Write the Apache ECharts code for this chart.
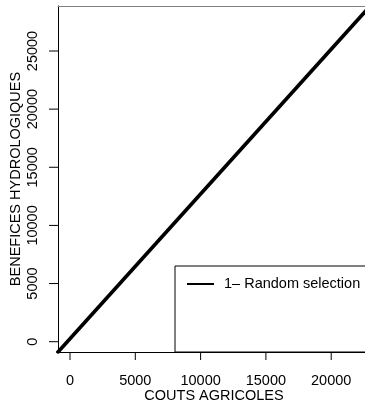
<!DOCTYPE html>
<html>
<head>
<meta charset="utf-8">
<script src="https://cdn.jsdelivr.net/npm/echarts@6/dist/echarts.min.js"></script>
<style>
  html, body { margin: 0; padding: 0; background: #fff; }
  #chart { width: 365px; height: 403px; }
</style>
</head>
<body>
<div id="chart"></div>
<script>
// Cumulative benefit vs. cost for the random-selection scenario
const seriesName = '1\u2013 Random selection';
const costs = [-1000, 23000];
const benefits = [-994, 28893];

// Plot extents and labelled ticks
const xRange = [-919, 22971];
const yRange = [-886, 28870];
const xTicks = [0, 5000, 10000, 15000, 20000];
const yTicks = [0, 5000, 10000, 15000, 20000, 25000];
const tickStep = 5000;

const FONT = 'Liberation Sans, Arial, sans-serif';
const FS = 14.5;
const plain = v => String(v);

const W = 365, H = 403;
const X_TICK_LEN = 8, Y_TICK_LEN = 9;
// Main plotting box (the right edge runs just past the canvas)
const box = { left: 58, top: 6, right: -5, bottom: 51 };
const boxW = W - box.left - box.right;
const boxH = H - box.top - box.bottom;
const xPx = v => box.left + (v - xRange[0]) / (xRange[1] - xRange[0]) * boxW;
const yPx = v => box.top + (yRange[1] - v) / (yRange[1] - yRange[0]) * boxH;

const xFirst = xTicks[0], xLast = xTicks[xTicks.length - 1];
const yFirst = yTicks[0], yLast = yTicks[yTicks.length - 1];

// Thin strips just outside the box carry the outward tick marks and their labels
const yTickGrid = {
  left: box.left - Y_TICK_LEN, right: W - box.left,
  top: yPx(yLast), bottom: H - yPx(yFirst),
  outerBoundsMode: 'none'
};
const xTickGrid = {
  left: xPx(xFirst), right: W - xPx(xLast),
  top: H - box.bottom, bottom: box.bottom - X_TICK_LEN,
  outerBoundsMode: 'none'
};

const labelStyle = { fontFamily: FONT, fontSize: FS, color: '#000', lineHeight: 17 };
const hidden = { show: false };

const tickSeries = (data, xi, yi) => ({
  type: 'line',
  xAxisIndex: xi,
  yAxisIndex: yi,
  data: data,
  symbol: 'none',
  showSymbol: false,
  silent: true,
  clip: false,
  lineStyle: { color: '#000', width: 1 },
  itemStyle: { color: '#000' },
  emphasis: { disabled: true },
  tooltip: { show: false }
});

const chart = echarts.init(document.getElementById('chart'), null, { renderer: 'canvas' });

chart.setOption({
  animation: false,
  backgroundColor: '#ffffff',
  textStyle: { fontFamily: FONT, color: '#000' },
  grid: [
    Object.assign({ containLabel: false, outerBoundsMode: 'none' }, box),
    yTickGrid,
    xTickGrid
  ],
  legend: {
    data: [seriesName],
    left: 175,
    top: 266,
    orient: 'vertical',
    icon: 'rect',
    itemWidth: 27,
    itemHeight: 2,
    padding: [10, 60, 60, 12],
    borderColor: '#000',
    borderWidth: 1,
    borderRadius: 0,
    backgroundColor: '#fff',
    itemStyle: { color: '#000' },
    lineStyle: { width: 0 },
    textStyle: { fontFamily: FONT, fontSize: FS, color: '#000', lineHeight: 16, padding: [0, 0, 0, 5] }
  },
  xAxis: [
    {
      gridIndex: 0,
      type: 'value',
      min: xRange[0],
      max: xRange[1],
      position: 'bottom',
      name: 'COUTS AGRICOLES',
      nameLocation: 'middle',
      nameGap: 35,
      nameTextStyle: labelStyle,
      axisLine: { show: true, onZero: false, lineStyle: { color: '#000', width: 1 } },
      axisTick: hidden,
      axisLabel: hidden,
      splitLine: hidden
    },
    {
      gridIndex: 0,
      type: 'value',
      min: xRange[0],
      max: xRange[1],
      position: 'top',
      axisLine: { show: true, onZero: false, lineStyle: { color: '#808080', width: 1 } },
      axisTick: hidden,
      axisLabel: hidden,
      splitLine: hidden
    },
    { gridIndex: 1, type: 'value', min: 0, max: 1, show: false },
    {
      gridIndex: 2,
      type: 'value',
      min: xFirst,
      max: xLast,
      interval: tickStep,
      position: 'bottom',
      axisLine: { show: false, onZero: false },
      axisTick: hidden,
      axisLabel: Object.assign({ formatter: plain, margin: 20 - X_TICK_LEN }, labelStyle),
      splitLine: hidden
    }
  ],
  yAxis: [
    {
      gridIndex: 0,
      type: 'value',
      min: yRange[0],
      max: yRange[1],
      name: 'BENEFICES HYDROLOGIQUES',
      nameLocation: 'middle',
      nameGap: 34,
      nameRotate: 90,
      nameTextStyle: labelStyle,
      axisLine: { show: true, onZero: false, lineStyle: { color: '#000', width: 1 } },
      axisTick: hidden,
      axisLabel: hidden,
      splitLine: hidden
    },
    {
      gridIndex: 1,
      type: 'value',
      min: yFirst,
      max: yLast,
      interval: tickStep,
      position: 'left',
      axisLine: { show: false, onZero: false },
      axisTick: hidden,
      axisLabel: Object.assign({ formatter: plain, rotate: 90, margin: 17 - Y_TICK_LEN }, labelStyle),
      splitLine: hidden
    },
    { gridIndex: 2, type: 'value', min: 0, max: 1, show: false }
  ],
  series: [
    {
      name: seriesName,
      type: 'line',
      xAxisIndex: 0,
      yAxisIndex: 0,
      data: costs.map((c, i) => [c, benefits[i]]),
      showSymbol: false,
      symbol: 'none',
      clip: true,
      lineStyle: { color: '#000', width: 3.6 },
      itemStyle: { color: '#000' }
    }
  ]
    // outward tick marks on both axes
    .concat(yTicks.map(v => tickSeries([[0, v], [1, v]], 2, 1)))
    .concat(xTicks.map(v => tickSeries([[v, 0], [v, 1]], 3, 2)))
});
</script>
</body>
</html>
